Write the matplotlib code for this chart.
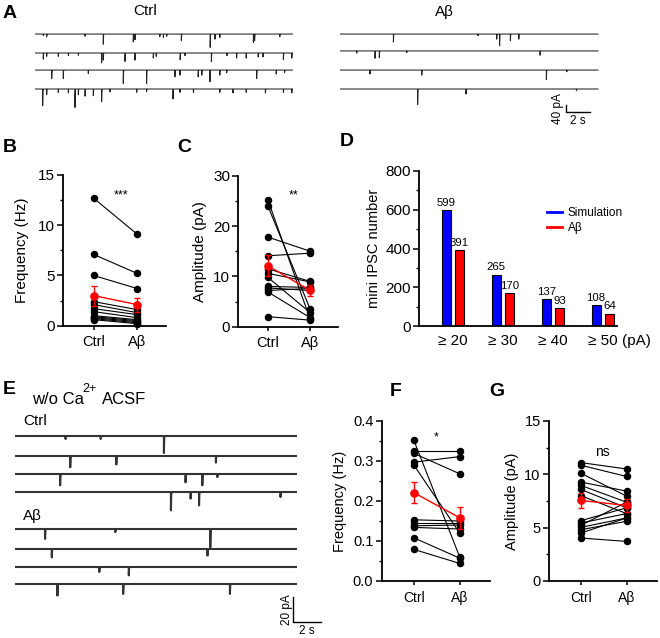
import numpy as np
import matplotlib.pyplot as plt
from matplotlib.lines import Line2D
from matplotlib.ticker import MultipleLocator

plt.rcParams['font.family'] = ['Liberation Sans', 'DejaVu Sans']

W, H = 660, 638

# ---------------- data ----------------
# A: miniIPSC events per sweep, time (s) and amplitude (pA)
a_ctrl_t = [
    [0.69, 0.97, 4.17, 5.69, 8.19, 8.33, 10.4, 10.7, 10.97, 12.2, 14.6, 15.0, 15.4, 18.2, 18.3, 20.4],
    [0.69, 0.97, 1.94, 2.78, 3.61, 5.55, 5.69, 7.5, 8.33, 9.86, 10.1, 12.1, 12.5, 14.7, 16.0, 16.8, 17.6, 18.6, 19.0, 20.7, 21.4],
    [1.39, 2.36, 4.44, 7.36, 9.3, 11.66, 12.08, 13.6, 13.9, 14.58, 15.4, 15.97, 18.47, 20.1, 20.8],
    [0.64, 0.97, 1.94, 2.78, 3.33, 3.61, 4.17, 4.86, 5.55, 6.25, 8.47, 9.3, 11.5, 12.08, 13.2, 15.4, 16.5, 17.6, 19.2, 20.7, 21.4],
]
a_ctrl_amp = [
    [9, 18, 14, 64, 50, 36, 14, 18, 14, 36, 71, 27, 18, 45, 36, 14],
    [39, 21, 18, 14, 14, 62, 45, 45, 45, 27, 18, 36, 14, 45, 14, 27, 27, 21, 21, 36, 27],
    [53, 45, 18, 71, 71, 36, 27, 36, 27, 62, 27, 18, 53, 21, 14],
    [89, 36, 18, 21, 116, 36, 45, 36, 80, 18, 21, 14, 53, 18, 18, 18, 21, 18, 21, 18, 21],
]
a_ab_t = [
    [4.45, 11.5, 13.06, 13.3, 14.2, 14.9],
    [1.39, 2.92, 3.28, 5.56, 16.67],
    [2.5, 6.81, 17.2, 18.9],
    [6.47, 10.5, 19.7],
]
a_ab_amp = [
    [50, 9, 27, 62, 36, 27],
    [14, 39, 36, 9, 27],
    [21, 32, 50, 9],
    [98, 27, 9],
]

# B: frequency (Hz)
b_ctrl = [12.7, 7.1, 5.0, 2.4, 2.1, 1.7, 1.4, 1.0, 0.9, 0.8, 0.7, 0.6]
b_ab = [9.1, 5.2, 3.7, 1.6, 1.3, 1.1, 0.8, 0.6, 0.5, 0.4, 0.3, 0.2]
b_mean = [3.0, 2.1]
b_sem = [1.0, 0.7]

# C: amplitude (pA)
c_ctrl = [25.2, 24.0, 17.8, 14.1, 11.5, 10.6, 9.8, 8.0, 7.7, 7.2, 6.9, 2.0]
c_ab = [1.5, 3.5, 15.0, 14.6, 9.0, 8.9, 2.8, 7.8, 7.2, 7.6, 1.8, 1.3]
c_mean = [12.1, 7.2]
c_sem = [2.1, 1.05]

# D: mini IPSC counts
d_bins = ['≥ 20', '≥ 30', '≥ 40', '≥ 50']
d_sim = [599, 265, 137, 108]
d_ab = [391, 170, 93, 64]

# E: w/o Ca2+ sweeps, time (s) and amplitude (pA)
e_ctrl_t = [[3.6, 6.1, 10.6], [3.93, 7.21, 14.3], [3.21, 12.14, 13.33, 14.4], [11.1, 12.5, 13.1, 18.9]]
e_ctrl_amp = [[2.4, 2.4, 13.6], [10.7, 8.0, 5.3], [10.7, 6.7, 10.7, 2.5], [14.7, 5.3, 10.7, 4.0]]
e_ab_t = [[2.14, 7.14, 13.9], [2.62, 13.7], [6.0, 8.1], [3.02, 7.7, 15.3]]
e_ab_amp = [[8.0, 2.5, 14.7], [6.7, 5.3], [4.0, 6.7], [9.3, 8.0, 8.0]]

# F: frequency (Hz)
f_ctrl = [0.352, 0.326, 0.319, 0.297, 0.290, 0.153, 0.145, 0.138, 0.134, 0.108, 0.079]
f_ab = [0.060, 0.326, 0.268, 0.311, 0.120, 0.150, 0.145, 0.140, 0.130, 0.057, 0.044]
f_mean = [0.221, 0.158]
f_sem = [0.027, 0.027]

# G: amplitude (pA)
g_ctrl = [11.1, 10.85, 10.1, 9.27, 8.96, 8.58, 8.0, 5.66, 5.44, 5.22, 5.03, 4.81, 4.5, 4.03]
g_ab = [10.5, 9.8, 7.96, 8.43, 7.39, 6.86, 6.32, 6.86, 6.32, 7.39, 5.91, 5.6, 5.91, 3.71]
g_mean = [7.55, 7.08]
g_sem = [0.7, 0.6]

groups = ['Ctrl', 'Aβ']

# ---------------- helpers ----------------
fig = plt.figure(figsize=(W / 100, H / 100), dpi=100)


def px_axes(x0, y0, x1, y1):
    return fig.add_axes([x0 / W, 1 - y1 / H, (x1 - x0) / W, (y1 - y0) / H])


def sweep(times, amps, dur, dt=0.004, tau=0.012):
    t = np.arange(0, dur, dt)
    y = np.zeros_like(t)
    for t0, a in zip(times, amps):
        m = t >= t0
        y[m] -= a * np.exp(-(t[m] - t0) / tau)
    return t, y


def letter(x, y, s):
    fig.text(x / W, 1 - y / H, s, fontsize=14, fontweight='bold', ha='left', va='center')


def paired(ax, ctrl, ab, mean, sem, ylim, major, minor, ylabel, fs=10.5, lpad=4):
    for c, a in zip(ctrl, ab):
        ax.plot([1, 2], [c, a], color='black', lw=0.8, marker='o', ms=4.4, zorder=2, clip_on=False)
    ax.errorbar([1, 2], mean, yerr=sem, color='red', lw=1.0, marker='o', ms=5.2,
                capsize=2.3, capthick=1.0, elinewidth=1.0, zorder=3, clip_on=False)
    ax.set_ylim(*ylim)
    ax.set_xlim(0.3, 2.66)
    ax.yaxis.set_major_locator(MultipleLocator(major))
    ax.yaxis.set_minor_locator(MultipleLocator(minor))
    ax.set_xticks([1, 2])
    ax.set_xticklabels(groups)
    ax.set_ylabel(ylabel, fontsize=fs + 0.5, labelpad=lpad)
    for s in ['top', 'right']:
        ax.spines[s].set_visible(False)
    for s in ['left', 'bottom']:
        ax.spines[s].set_linewidth(1.3)
    ax.tick_params(axis='y', which='major', length=4, width=1.1, labelsize=fs + 0.5, pad=2)
    ax.tick_params(axis='y', which='minor', length=2.5, width=1.0)
    ax.tick_params(axis='x', length=3, width=1.1, labelsize=fs, pad=4)


# ---------------- A ----------------
pa = 40 / 7.5  # pA per pixel
ax = px_axes(35, 20, 293, 135)
offs = [-75, -176, -267, -368]
for ts, am, o in zip(a_ctrl_t, a_ctrl_amp, offs):
    t, y = sweep(ts, am, 21.5)
    ax.plot(t, y + o, color='#222222', lw=0.75)
ax.set_xlim(0, 21.5)
ax.set_ylim(-115 * pa, 0)
ax.axis('off')

ax = px_axes(340, 20, 610, 135)
offs = [-75, -165, -267, -368]
for ts, am, o in zip(a_ab_t, a_ab_amp, offs):
    t, y = sweep(ts, am, 21.5)
    ax.plot(t, y + o, color='#222222', lw=0.75)
ax.plot([18.83, 18.83, 20.83], [-92 * pa + 40, -92 * pa, -92 * pa], color='black', lw=1.0)
ax.text(18.2, -92 * pa + 20, '40 pA', rotation=90, ha='center', va='center', fontsize=8.5)
ax.text(19.83, -101 * pa, '2 s', ha='center', va='center', fontsize=8.5)
ax.set_xlim(0, 270 / 12)
ax.set_ylim(-115 * pa, 0)
ax.axis('off')

fig.text(145 / W, 1 - 11 / H, 'Ctrl', fontsize=11, ha='center', va='center')
fig.text(444 / W, 1 - 12 / H, 'Aβ', fontsize=11, ha='center', va='center')
letter(3, 14, 'A')

# ---------------- B ----------------
ax = px_axes(63, 175, 166, 325.7)
paired(ax, b_ctrl, b_ab, b_mean, b_sem, (0, 15), 5, 2.5, 'Frequency (Hz)', fs=10.5, lpad=6)
ax.text(1.62, 13.0, '***', ha='center', va='center', fontsize=9)
letter(3, 147, 'B')

# ---------------- C ----------------
ax = px_axes(238.3, 175.7, 338, 326.7)
paired(ax, c_ctrl, c_ab, c_mean, c_sem, (0, 30), 10, 5, 'Amplitude (pA)', fs=10.5, lpad=4)
ax.text(1.62, 26.0, '**', ha='center', va='center', fontsize=9)
letter(177, 147, 'C')

# ---------------- D ----------------
ax = px_axes(419, 171, 616.7, 326)
xg = np.arange(len(d_bins))
ax.bar(xg - 0.132, d_sim, width=0.185, color='#0000ff', edgecolor='black', lw=0.8)
ax.bar(xg + 0.132, d_ab, width=0.185, color='#ff0000', edgecolor='black', lw=0.8)
for x, v in zip(xg - 0.132, d_sim):
    ax.text(x, v + 12, str(v), ha='center', va='bottom', fontsize=8.2)
for x, v in zip(xg + 0.132, d_ab):
    ax.text(x, v + 12, str(v), ha='center', va='bottom', fontsize=8.2)
ax.set_xlim(-0.68, 3.28)
ax.set_ylim(0, 800)
ax.set_xticks(xg)
ax.set_xticklabels(d_bins)
ax.yaxis.set_major_locator(MultipleLocator(200))
ax.yaxis.set_minor_locator(MultipleLocator(100))
ax.set_ylabel('mini IPSC number', fontsize=10.5, labelpad=3)
for s in ['top', 'right']:
    ax.spines[s].set_visible(False)
for s in ['left', 'bottom']:
    ax.spines[s].set_linewidth(1.3)
ax.tick_params(axis='y', which='major', length=4, width=1.1, labelsize=11, pad=2)
ax.tick_params(axis='y', which='minor', length=2.5, width=1.0)
ax.tick_params(axis='x', length=0, labelsize=11, pad=6)
ax.text(3.67, -0.1, '(pA)', transform=ax.get_xaxis_transform(), ha='center', va='center', fontsize=11)
handles = [Line2D([], [], color='#0000ff', lw=2), Line2D([], [], color='#ff0000', lw=2)]
ax.legend(handles, ['Simulation', 'Aβ'], loc='upper left', bbox_to_anchor=(0.645, 0.765),
          frameon=False, fontsize=8.5, handlelength=1.3, handletextpad=0.5,
          labelspacing=0.25, borderpad=0, borderaxespad=0)
letter(340, 141, 'D')

# ---------------- E ----------------
pe = 0.8  # pA per pixel
ax = px_axes(15, 425, 330, 638)
offs = [-8.8, -24.8, -39.2, -53.6, -83.2, -99.2, -113.6, -127.2]
for ts, am, o in zip(e_ctrl_t + e_ab_t, e_ctrl_amp + e_ab_amp, offs):
    t, y = sweep(ts, am, 20.0)
    ax.plot(t, y + o, color='#333333', lw=1.5)
ax.plot([19.79, 19.79, 21.79], [-137.6, -157.6, -157.6], color='black', lw=1.0)
ax.text(19.36, -148, '20 pA', rotation=90, ha='center', va='center', fontsize=8.5)
ax.text(20.78, -165, '2 s', ha='center', va='center', fontsize=8.5)
ax.set_xlim(0, 315 / 14.05)
ax.set_ylim(-213 * pe, 0)
ax.axis('off')

letter(3, 389, 'E')
fig.text(32 / W, 1 - 399 / H, 'w/o Ca', fontsize=12, ha='left', va='center')
fig.text(82 / W, 1 - 389 / H, '2+', fontsize=9, ha='left', va='center')
fig.text(102 / W, 1 - 399 / H, 'ACSF', fontsize=12, ha='left', va='center')
fig.text(23 / W, 1 - 421 / H, 'Ctrl', fontsize=11, ha='left', va='center')
fig.text(23 / W, 1 - 516 / H, 'Aβ', fontsize=11, ha='left', va='center')

# ---------------- F ----------------
ax = px_axes(381.7, 421, 490, 581)
paired(ax, f_ctrl, f_ab, f_mean, f_sem, (0, 0.4), 0.1, 0.05, 'Frequency (Hz)', fs=10, lpad=4)
ax.yaxis.set_major_formatter(plt.FormatStrFormatter('%.1f'))
ax.text(1.48, 0.36, '*', ha='center', va='center', fontsize=9)
letter(390, 391, 'F')

# ---------------- G ----------------
ax = px_axes(549, 421, 656.7, 581)
paired(ax, g_ctrl, g_ab, g_mean, g_sem, (0, 15), 5, 2.5, 'Amplitude (pA)', fs=10, lpad=4)
ax.text(1.47, 12.1, 'ns', ha='center', va='center', fontsize=10)
letter(489, 391, 'G')

fig.savefig('out.png', dpi=100)
